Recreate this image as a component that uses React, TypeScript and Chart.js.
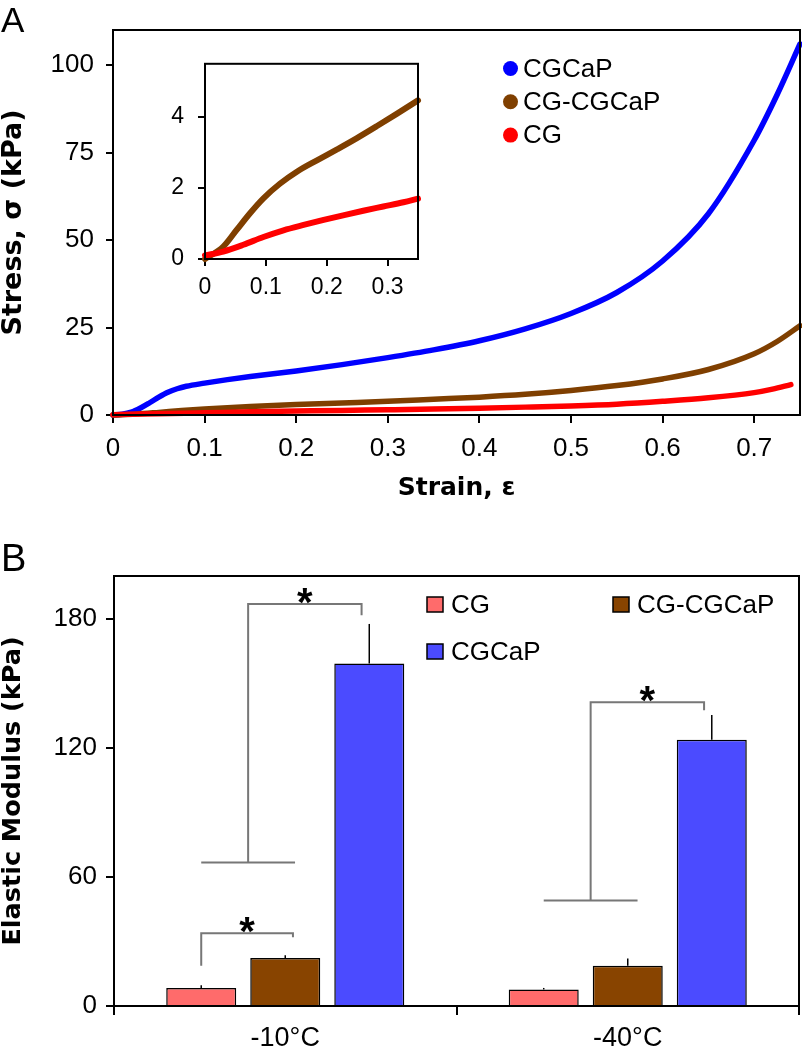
import React, { useEffect, useRef } from 'react';
import { Chart, registerables } from 'chart.js';

Chart.register(...registerables);
Chart.defaults.font.family = '"Liberation Sans", Arial, sans-serif';

// ---------- Panel A: stress–strain curves ----------
const strainCGCaP = [0, 0.01, 0.02, 0.03, 0.04, 0.05, 0.06, 0.07, 0.08, 0.1, 0.125, 0.15, 0.2, 0.25, 0.3, 0.35, 0.4, 0.45, 0.5, 0.55, 0.6, 0.65, 0.7, 0.725, 0.75];
const stressCGCaP = [0, 0.2, 0.8, 2.0, 3.5, 5.1, 6.5, 7.5, 8.2, 9.1, 10.1, 11.0, 12.6, 14.4, 16.4, 18.6, 21.2, 24.6, 29.0, 35.0, 44.0, 57.5, 78.5, 91.5, 106];

const strainCGCGCaP = [0, 0.025, 0.05, 0.075, 0.1, 0.15, 0.2, 0.25, 0.3, 0.35, 0.4, 0.45, 0.5, 0.55, 0.6, 0.65, 0.7, 0.725, 0.75];
const stressCGCGCaP = [0, 0.25, 0.75, 1.3, 1.75, 2.45, 3.0, 3.45, 3.9, 4.5, 5.1, 5.9, 7.0, 8.4, 10.3, 13.0, 17.5, 21.0, 25.5];

const strainCG = [0, 0.05, 0.1, 0.15, 0.2, 0.25, 0.3, 0.35, 0.4, 0.45, 0.5, 0.55, 0.6, 0.65, 0.7, 0.72, 0.74];
const stressCG = [0.1, 0.35, 0.63, 0.92, 1.12, 1.32, 1.5, 1.7, 1.95, 2.25, 2.6, 3.1, 3.9, 4.9, 6.4, 7.4, 8.7];

const strainTicks = [0, 0.1, 0.2, 0.3, 0.4, 0.5, 0.6, 0.7];
const stressTicks = [0, 25, 50, 75, 100];

// Inset (low strain region)
const insetStrainCGCGCaP = [0, 0.03, 0.052, 0.074, 0.096, 0.123, 0.151, 0.184, 0.217, 0.249, 0.282, 0.315, 0.35];
const insetStressCGCGCaP = [0, 0.35, 0.82, 1.29, 1.71, 2.12, 2.46, 2.78, 3.09, 3.4, 3.74, 4.09, 4.47];
const insetStrainCG = [0, 0.03, 0.063, 0.096, 0.129, 0.162, 0.195, 0.227, 0.26, 0.293, 0.326, 0.35];
const insetStressCG = [0.1, 0.21, 0.4, 0.62, 0.81, 0.96, 1.1, 1.23, 1.36, 1.48, 1.6, 1.7];
const insetStrainTicks = [0, 0.1, 0.2, 0.3];
const insetStressTicks = [0, 2, 4];

// ---------- Panel B: elastic modulus ----------
const temperatures = ['-10°C', '-40°C'];
const modulusCG = [8.4, 7.7];
const errorCG = [1.3, 0.7];
const modulusCGCGCaP = [22.3, 18.7];
const errorCGCGCaP = [1.3, 3.4];
const modulusCGCaP = [159.3, 123.8];
const errorCGCaP = [18.4, 11.6];
const modulusTicks = [0, 60, 120, 180];

// significance brackets (value space)
const bracketGroup = [0, 0, 1];
const bracketLevel = [187, 33.8, 141.3];
const bracketLeftEnd = [66.8, 18.7, 49.1];
const bracketRightEnd = [181.7, 32.0, 137.6];
const bracketNested = [true, false, true];

const colorCGCaP = '#0000FF';
const colorCGCGCaP = '#7F3F00';
const colorCG = '#FF0000';
const barColorCG = '#FF6B6B';
const barColorCGCGCaP = '#884400';
const barColorCGCaP = '#4B4BFF';

const framePlugin = {
  id: 'frame',
  afterDraw(chart: any) {
    const { ctx, chartArea } = chart;
    ctx.save();
    ctx.strokeStyle = '#000';
    ctx.lineWidth = 2;
    ctx.strokeRect(chartArea.left, chartArea.top, chartArea.right - chartArea.left, chartArea.bottom - chartArea.top);
    ctx.restore();
  },
};

const legendAPlugin = {
  id: 'legendA',
  afterDraw(chart: any) {
    const ctx = chart.ctx;
    const order = [2, 1, 0];
    ctx.save();
    order.forEach((di, row) => {
      const ds = chart.data.datasets[di];
      const cy = 68.5 + row * 33.3;
      ctx.fillStyle = ds.borderColor;
      ctx.beginPath();
      ctx.arc(510.5, cy, 7.5, 0, Math.PI * 2);
      ctx.fill();
      ctx.fillStyle = '#000';
      ctx.font = '26px "Liberation Sans", Arial, sans-serif';
      ctx.textBaseline = 'middle';
      ctx.textAlign = 'left';
      ctx.fillText(ds.label, 523, cy + 1);
    });
    ctx.restore();
  },
};

const barExtrasPlugin = {
  id: 'barExtras',
  afterDatasetsDraw(chart: any) {
    const ctx = chart.ctx;
    const yS = chart.scales.y;
    const values = [modulusCG, modulusCGCGCaP, modulusCGCaP];
    const errors = [errorCG, errorCGCGCaP, errorCGCaP];
    ctx.save();
    // error bars
    ctx.strokeStyle = '#000';
    ctx.lineWidth = 1.5;
    for (let d = 0; d < 3; d++) {
      const meta = chart.getDatasetMeta(d);
      meta.data.forEach((bar: any, j: number) => {
        const top = yS.getPixelForValue(values[d][j] + errors[d][j]);
        ctx.beginPath();
        ctx.moveTo(bar.x, bar.y);
        ctx.lineTo(bar.x, top);
        ctx.stroke();
      });
    }
    // brackets
    ctx.strokeStyle = '#777';
    ctx.lineWidth = 2;
    for (let k = 0; k < bracketGroup.length; k++) {
      const g = bracketGroup[k];
      const b0 = chart.getDatasetMeta(0).data[g];
      const b1 = chart.getDatasetMeta(1).data[g];
      const b2 = chart.getDatasetMeta(2).data[g];
      const bw = b0.width;
      const yl = yS.getPixelForValue(bracketLevel[k]);
      const yLeft = yS.getPixelForValue(bracketLeftEnd[k]);
      const yRight = yS.getPixelForValue(bracketRightEnd[k]);
      let lx: number, rx: number;
      ctx.beginPath();
      if (bracketNested[k]) {
        const baseL = b0.x;
        const baseR = b1.x + 0.14 * bw;
        lx = (baseL + baseR) / 2;
        rx = b2.x - 0.11 * bw;
        ctx.moveTo(baseL, yLeft);
        ctx.lineTo(baseR, yLeft);
      } else {
        lx = b0.x;
        rx = b1.x + 0.11 * bw;
      }
      ctx.moveTo(lx, yLeft);
      ctx.lineTo(lx, yl);
      ctx.lineTo(rx, yl);
      ctx.lineTo(rx, yRight);
      ctx.stroke();
      ctx.fillStyle = '#000';
      ctx.font = 'bold 40px "Liberation Sans", Arial, sans-serif';
      ctx.textAlign = 'center';
      ctx.textBaseline = 'alphabetic';
      ctx.fillText('*', (lx + rx) / 2, yl + 12);
    }
    ctx.restore();
  },
  afterDraw(chart: any) {
    const ctx = chart.ctx;
    const items = [
      { di: 0, x: 427, y: 87 },
      { di: 1, x: 613, y: 87 },
      { di: 2, x: 427, y: 134 },
    ];
    ctx.save();
    items.forEach((it) => {
      const ds = chart.data.datasets[it.di];
      ctx.fillStyle = ds.backgroundColor;
      ctx.fillRect(it.x, it.y, 16, 15);
      ctx.strokeStyle = '#000';
      ctx.lineWidth = 1.5;
      ctx.strokeRect(it.x, it.y, 16, 15);
      ctx.fillStyle = '#000';
      ctx.font = '26px "Liberation Sans", Arial, sans-serif';
      ctx.textAlign = 'left';
      ctx.textBaseline = 'middle';
      ctx.fillText(ds.label, it.x + 24, it.y + 8.5);
    });
    ctx.restore();
  },
};

const lineDs = (label: string, xs: number[], ys: number[], color: string, width: number) => ({
  label,
  data: xs.map((x, i) => ({ x, y: ys[i] })),
  borderColor: color,
  backgroundColor: color,
  borderWidth: width,
  pointRadius: 0,
  cubicInterpolationMode: 'monotone',
  fill: false,
  borderCapStyle: 'round',
  clip: 6,
});

const axisGrid = (tickLength: number) => ({
  drawOnChartArea: false,
  drawTicks: true,
  tickLength,
  color: '#000',
  lineWidth: 2,
});

export default function App() {
  const refA = useRef<HTMLCanvasElement>(null);
  const refInset = useRef<HTMLCanvasElement>(null);
  const refB = useRef<HTMLCanvasElement>(null);

  useEffect(() => {
    document.body.style.margin = '0';
    const charts: Chart[] = [];

    charts.push(
      new Chart(refA.current as HTMLCanvasElement, {
        type: 'line',
        data: {
          datasets: [
            lineDs('CG', strainCG, stressCG, colorCG, 5.5),
            lineDs('CG-CGCaP', strainCGCGCaP, stressCGCGCaP, colorCGCGCaP, 5.5),
            lineDs('CGCaP', strainCGCaP, stressCGCaP, colorCGCaP, 5.5),
          ] as any,
        },
        options: {
          responsive: false,
          animation: false,
          devicePixelRatio: 1,
          layout: { padding: { top: 30, right: 2, left: 0, bottom: 0 } },
          plugins: { legend: { display: false }, tooltip: { enabled: false } },
          scales: {
            x: {
              type: 'linear',
              min: 0,
              max: 0.75,
              afterBuildTicks: (s: any) => { s.ticks = strainTicks.map((v) => ({ value: v })); },
              afterFit: (s: any) => { s.height = 95; },
              grid: axisGrid(8),
              border: { color: '#000', width: 2 },
              ticks: { color: '#000', font: { size: 26 }, padding: 10, maxRotation: 0, autoSkip: false, callback: (v: any) => String(v) },
              title: { display: true, text: 'Strain, ε', color: '#000', font: { family: '"DejaVu Sans"', weight: 'bold', size: 25 }, padding: { top: 0, bottom: 7 } },
            },
            y: {
              type: 'linear',
              min: 0,
              max: 110,
              afterBuildTicks: (s: any) => { s.ticks = stressTicks.map((v) => ({ value: v })); },
              afterFit: (s: any) => { s.width = 113; },
              grid: axisGrid(7),
              border: { color: '#000', width: 2 },
              ticks: { color: '#000', font: { size: 26 }, padding: 12, callback: (v: any) => String(v) },
              title: { display: true, text: 'Stress, σ (kPa)', color: '#000', font: { family: '"DejaVu Sans"', weight: 'bold', size: 27, lineHeight: 1 }, padding: { top: 0, bottom: 0 } },
            },
          },
        } as any,
        plugins: [framePlugin, legendAPlugin],
      })
    );

    charts.push(
      new Chart(refInset.current as HTMLCanvasElement, {
        type: 'line',
        data: {
          datasets: [
            lineDs('CG', insetStrainCG, insetStressCG, colorCG, 6),
            lineDs('CG-CGCaP', insetStrainCGCGCaP, insetStressCGCGCaP, colorCGCGCaP, 6),
          ] as any,
        },
        options: {
          responsive: false,
          animation: false,
          devicePixelRatio: 1,
          layout: { padding: { top: 0, right: 12, left: 0, bottom: 0 } },
          plugins: { legend: { display: false }, tooltip: { enabled: false } },
          scales: {
            x: {
              type: 'linear',
              min: 0,
              max: 0.35,
              afterBuildTicks: (s: any) => { s.ticks = insetStrainTicks.map((v) => ({ value: v })); },
              afterFit: (s: any) => { s.height = 51; },
              grid: axisGrid(7),
              border: { color: '#000', width: 2 },
              ticks: { color: '#000', font: { size: 23 }, padding: 8, maxRotation: 0, autoSkip: false, callback: (v: any) => String(v) },
            },
            y: {
              type: 'linear',
              min: 0,
              max: 5.5,
              afterBuildTicks: (s: any) => { s.ticks = insetStressTicks.map((v) => ({ value: v })); },
              afterFit: (s: any) => { s.width = 55; },
              grid: axisGrid(7),
              border: { color: '#000', width: 2 },
              ticks: { color: '#000', font: { size: 23 }, padding: 14, callback: (v: any) => String(v) },
            },
          },
        } as any,
        plugins: [framePlugin],
      })
    );

    charts.push(
      new Chart(refB.current as HTMLCanvasElement, {
        type: 'bar',
        data: {
          labels: temperatures,
          datasets: [
            { label: 'CG', data: modulusCG, backgroundColor: barColorCG },
            { label: 'CG-CGCaP', data: modulusCGCGCaP, backgroundColor: barColorCGCGCaP },
            { label: 'CGCaP', data: modulusCGCaP, backgroundColor: barColorCGCaP },
          ].map((d) => ({ ...d, borderColor: '#000', borderWidth: 1.5, barPercentage: 0.833, categoryPercentage: 0.736 })),
        },
        options: {
          responsive: false,
          animation: false,
          devicePixelRatio: 1,
          layout: { padding: { top: 66, right: 3, left: 0, bottom: 0 } },
          plugins: { legend: { display: false }, tooltip: { enabled: false } },
          scales: {
            x: {
              type: 'category',
              afterFit: (s: any) => { s.height = 44; },
              grid: { ...axisGrid(9), offset: true },
              border: { color: '#000', width: 2 },
              ticks: { color: '#000', font: { size: 27 }, padding: 7, maxRotation: 0 },
            },
            y: {
              type: 'linear',
              min: 0,
              max: 200,
              afterBuildTicks: (s: any) => { s.ticks = modulusTicks.map((v) => ({ value: v })); },
              afterFit: (s: any) => { s.width = 114; },
              grid: axisGrid(8),
              border: { color: '#000', width: 2 },
              ticks: { color: '#000', font: { size: 26 }, padding: 9, callback: (v: any) => String(v) },
              title: { display: true, text: 'Elastic Modulus (kPa)', color: '#000', font: { family: '"DejaVu Sans"', weight: 'bold', size: 25.5, lineHeight: 1 }, padding: { top: 1, bottom: 0 } },
            },
          },
        } as any,
        plugins: [framePlugin, barExtrasPlugin],
      })
    );

    return () => charts.forEach((c) => c.destroy());
  }, []);

  const panelLabel: React.CSSProperties = {
    position: 'absolute',
    fontFamily: '"Liberation Sans", Arial, sans-serif',
    lineHeight: 1,
    color: '#000',
    margin: 0,
  };

  return (
    <div style={{ position: 'relative', width: 802, height: 1050, background: '#fff', overflow: 'hidden' }}>
      <canvas ref={refA} width={802} height={510} style={{ position: 'absolute', left: 0, top: 0, width: 802, height: 510 }} />
      <canvas ref={refInset} width={280} height={274} style={{ position: 'absolute', left: 150, top: 36, width: 280, height: 274 }} />
      <canvas ref={refB} width={802} height={540} style={{ position: 'absolute', left: 0, top: 510, width: 802, height: 540 }} />
      <div style={{ ...panelLabel, left: 1, top: 2, fontSize: 35 }}>A</div>
      <div style={{ ...panelLabel, left: 1, top: 539, fontSize: 38 }}>B</div>
    </div>
  );
}
